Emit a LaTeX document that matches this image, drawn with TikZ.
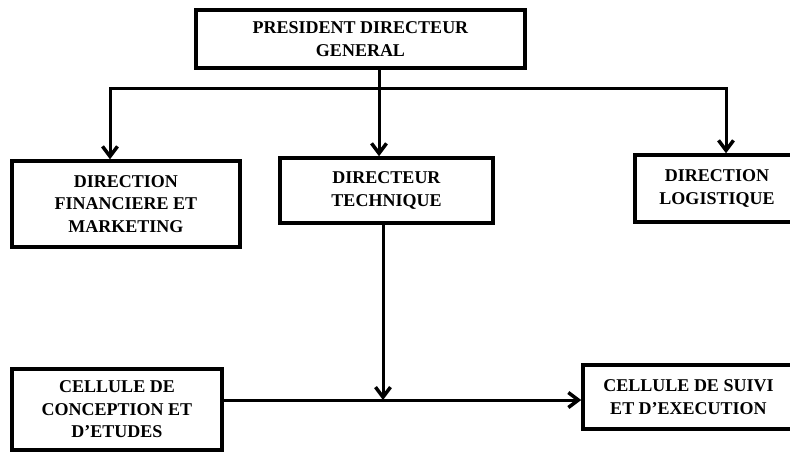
\documentclass[tikz,border=0pt]{standalone}
\usepackage{fontspec}
\setmainfont{Liberation Serif}
\usetikzlibrary{arrows.meta}
\begin{document}
\begin{tikzpicture}[x=1pt,y=-1pt,
  box/.style={draw, line width=3.5pt, rectangle, align=center, inner sep=0pt,
    font=\fontsize{18}{22.5}\selectfont\bfseries},
  conn/.style={line width=3pt},
  arr/.style={line width=3pt, -{Straight Barb[length=10pt,width=15pt,line width=3.5pt]}}]
\useasboundingbox (0,0) rectangle (790,453);
\node[box, minimum width=329pt, minimum height=58pt] (pdg) at (360.5,39) {PRESIDENT DIRECTEUR\\GENERAL};
\node[box, minimum width=228pt, minimum height=86pt] (dfm) at (126,204) {DIRECTION\\FINANCIERE ET\\MARKETING};
\node[box, minimum width=213pt, minimum height=65pt] (dt) at (386.5,190.5) {DIRECTEUR\\TECHNIQUE};
\node[box, minimum width=164pt, minimum height=67pt] (dl) at (717,188.5) {DIRECTION\\LOGISTIQUE};
\node[box, minimum width=210pt, minimum height=81pt] (cce) at (117,409.5) {CELLULE DE\\CONCEPTION ET\\D'ETUDES};
\node[box, minimum width=211pt, minimum height=64pt] (cse) at (688.5,397) {CELLULE DE SUIVI\\ET D'EXECUTION};
\coordinate (bus) at (379,88);
\coordinate (bl) at (110,88);
\coordinate (br) at (726,88);
\coordinate (j) at (383,400);
\draw[conn] (pdg.south -| bus) -- (bus);
\draw[conn, line cap=rect] (bl) -- (br);
\draw[arr] (bl) -- (bl |- dfm.north);
\draw[arr] (bus) -- (bus |- dt.north);
\draw[arr] (br) -- (br |- dl.north);
\draw[arr] (dt.south -| j) -- (j);
\draw[arr] (cce.east |- j) -- (cse.west |- j);
\end{tikzpicture}
\end{document}
